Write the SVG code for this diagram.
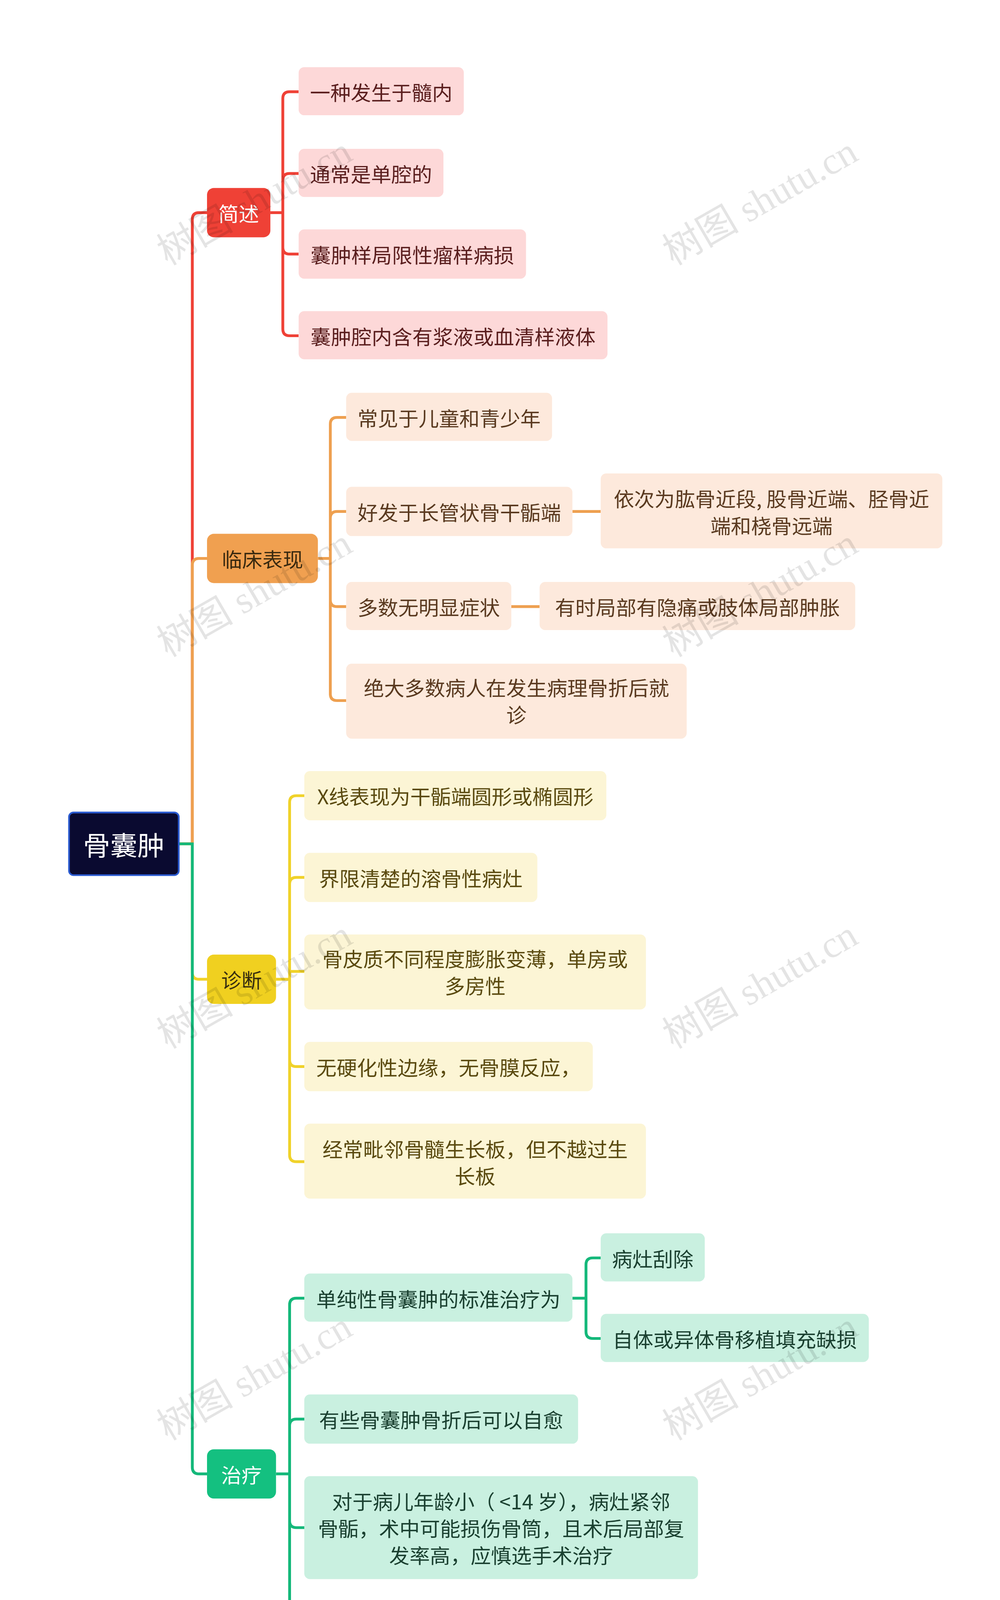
<svg xmlns="http://www.w3.org/2000/svg" width="2560" height="4493" viewBox="0 0 2560 4493">
<style>
text{font-family:"Noto Sans CJK SC","Liberation Sans",sans-serif;font-size:18px;text-anchor:middle;dominant-baseline:central}
.c{fill:none;stroke-width:2.5}
.r{stroke:#ef4136}.o{stroke:#eea050}.y{stroke:#f0d22a}.g{stroke:#14b87a}
.lr{fill:#fdd8d8}.lo{fill:#fde9dc}.ly{fill:#fcf5d5}.lg{fill:#c9f0e0}
.tr{fill:#5a1e1e}.to{fill:#5a3a20}.ty{fill:#5a4a10}.tg{fill:#1a4030}
.wm{font-family:"Liberation Serif","Noto Sans CJK SC",serif;font-size:34px;fill:#000;opacity:0.1}
</style>
<rect width="2560" height="4493" fill="#fff"/>
<g transform="scale(2.896,2.865)">
<g id="connectors">
<path class="c r" d="M158 754 H170 V196 Q170 190 176 190 H183"/>
<path class="c o" d="M158 754 H170 V505 Q170 499 176 499 H183"/>
<path class="c y" d="M158 754 H170 V869 Q170 875 176 875 H183"/>
<path class="c g" d="M158 754 H170 V1311 Q170 1317 176 1317 H183"/>
<path class="c r" d="M239 190 H250 V88 Q250 82 256 82 H264 M250 190 V161 Q250 155 256 155 H264 M250 190 V221 Q250 227 256 227 H264 M250 190 V294 Q250 300 256 300 H264"/>
<path class="c o" d="M281 499 H292 V379 Q292 373 298 373 H306 M292 499 V463 Q292 457 298 457 H306 M292 499 V536 Q292 542 298 542 H306 M292 499 V620 Q292 626 298 626 H306"/>
<path class="c o" d="M506 457 H531 M452 542 H477"/>
<path class="c y" d="M244 875 H256 V717 Q256 711 262 711 H269 M256 875 V790 Q256 784 262 784 H269 M256 875 V868 H269 M256 875 V947 Q256 953 262 953 H269 M256 875 V1032 Q256 1038 262 1038 H269"/>
<path class="c g" d="M244 1317 H256 V1166 Q256 1160 262 1160 H269 M256 1317 V1274 Q256 1268 262 1268 H269 M256 1317 V1359 Q256 1365 262 1365 H269 M256 1317 V1468 Q256 1474 262 1474 H269"/>
<path class="c g" d="M506 1160 H518 V1130 Q518 1124 524 1124 H531 M518 1160 V1190 Q518 1196 524 1196 H531"/>
</g>
<g id="root"><rect x="61" y="726" width="97" height="56" rx="4" fill="#0a0a30" stroke="#2a5ad0" stroke-width="1.5"/><text x="109.5" y="754" fill="#fff" style="font-size:24px">骨囊肿</text></g>
<g id="b1"><rect x="183" y="168" width="56" height="44" rx="6" fill="#ef4136"/><text x="211" y="190" fill="#fff">简述</text></g>
<g id="b2"><rect x="183" y="477" width="98" height="44" rx="6" fill="#f0a050"/><text x="232" y="499" fill="#3a2a10">临床表现</text></g>
<g id="b3"><rect x="183" y="853" width="61" height="44" rx="6" fill="#f0d020"/><text x="213.5" y="875" fill="#3a3010">诊断</text></g>
<g id="b4"><rect x="183" y="1295" width="61" height="44" rx="6" fill="#14c080"/><text x="213.5" y="1317" fill="#fff">治疗</text></g>
<g id="n1"><rect class="lr" x="264" y="60" width="146" height="43" rx="5"/><text class="tr" x="337" y="82">一种发生于髓内</text></g>
<g id="n2"><rect class="lr" x="264" y="133" width="128" height="43" rx="5"/><text class="tr" x="328" y="155">通常是单腔的</text></g>
<g id="n3"><rect class="lr" x="264" y="205" width="201" height="44" rx="5"/><text class="tr" x="364.5" y="227">囊肿样局限性瘤样病损</text></g>
<g id="n4"><rect class="lr" x="264" y="278" width="273" height="43" rx="5"/><text class="tr" x="400.5" y="300">囊肿腔内含有浆液或血清样液体</text></g>
<g id="n5"><rect class="lo" x="306" y="351" width="182" height="43" rx="5"/><text class="to" x="397" y="373">常见于儿童和青少年</text></g>
<g id="n6"><rect class="lo" x="306" y="435" width="200" height="44" rx="5"/><text class="to" x="406" y="457">好发于长管状骨干骺端</text></g>
<g id="n7"><rect class="lo" x="531" y="423" width="302" height="67" rx="5"/><text class="to" x="682" y="445">依次为肱骨近段, 股骨近端、胫骨近</text><text class="to" x="682" y="469">端和桡骨远端</text></g>
<g id="n8"><rect class="lo" x="306" y="520" width="146" height="43" rx="5"/><text class="to" x="379" y="542">多数无明显症状</text></g>
<g id="n9"><rect class="lo" x="477" y="520" width="279" height="43" rx="5"/><text class="to" x="616.5" y="542">有时局部有隐痛或肢体局部肿胀</text></g>
<g id="n10"><rect class="lo" x="306" y="593" width="301" height="67" rx="5"/><text class="to" x="456.5" y="614">绝大多数病人在发生病理骨折后就</text><text class="to" x="456.5" y="638">诊</text></g>
<g id="n11"><rect class="ly" x="269" y="689" width="267" height="44" rx="5"/><text class="ty" x="402.5" y="711">X线表现为干骺端圆形或椭圆形</text></g>
<g id="n12"><rect class="ly" x="269" y="762" width="206" height="44" rx="5"/><text class="ty" x="372" y="784">界限清楚的溶骨性病灶</text></g>
<g id="n13"><rect class="ly" x="269" y="835" width="302" height="67" rx="5"/><text class="ty" x="420" y="856">骨皮质不同程度膨胀变薄，单房或</text><text class="ty" x="420" y="880">多房性</text></g>
<g id="n14"><rect class="ly" x="269" y="931" width="255" height="44" rx="5"/><text class="ty" x="396.5" y="953">无硬化性边缘，无骨膜反应，</text></g>
<g id="n15"><rect class="ly" x="269" y="1004" width="302" height="67" rx="5"/><text class="ty" x="420" y="1026">经常毗邻骨髓生长板，但不越过生</text><text class="ty" x="420" y="1050">长板</text></g>
<g id="n16"><rect class="lg" x="269" y="1138" width="237" height="43" rx="5"/><text class="tg" x="387.5" y="1160">单纯性骨囊肿的标准治疗为</text></g>
<g id="n17"><rect class="lg" x="531" y="1102" width="92" height="43" rx="5"/><text class="tg" x="577" y="1124">病灶刮除</text></g>
<g id="n18"><rect class="lg" x="531" y="1174" width="237" height="43" rx="5"/><text class="tg" x="649.5" y="1196">自体或异体骨移植填充缺损</text></g>
<g id="n19"><rect class="lg" x="269" y="1246" width="242" height="44" rx="5"/><text class="tg" x="390" y="1268">有些骨囊肿骨折后可以自愈</text></g>
<g id="n20"><rect class="lg" x="269" y="1319" width="348" height="92" rx="5"/><text class="tg" x="443" y="1341">对于病儿年龄小（ &lt;14 岁），病灶紧邻</text><text class="tg" x="443" y="1365">骨骺，术中可能损伤骨筒，且术后局部复</text><text class="tg" x="443" y="1389">发率高，应慎选手术治疗</text></g>
<g id="n21"><rect class="lg" x="269" y="1440" width="302" height="67" rx="5"/><text class="tg" x="420" y="1462">用甲泼尼龙注入囊腔有一定疗效,</text><text class="tg" x="420" y="1486">可恢复正常骨结构</text></g>
<g id="watermarks">
<text class="wm" transform="translate(225,180) rotate(-30)">树图 shutu.cn</text>
<text class="wm" transform="translate(672,180) rotate(-30)">树图 shutu.cn</text>
<text class="wm" transform="translate(225,530) rotate(-30)">树图 shutu.cn</text>
<text class="wm" transform="translate(672,530) rotate(-30)">树图 shutu.cn</text>
<text class="wm" transform="translate(225,880) rotate(-30)">树图 shutu.cn</text>
<text class="wm" transform="translate(672,880) rotate(-30)">树图 shutu.cn</text>
<text class="wm" transform="translate(225,1230) rotate(-30)">树图 shutu.cn</text>
<text class="wm" transform="translate(672,1230) rotate(-30)">树图 shutu.cn</text>
<text class="wm" transform="translate(225,1520) rotate(-30)">树图 shutu.cn</text>
<text class="wm" transform="translate(672,1520) rotate(-30)">树图 shutu.cn</text>
</g>
</g>
</svg>
